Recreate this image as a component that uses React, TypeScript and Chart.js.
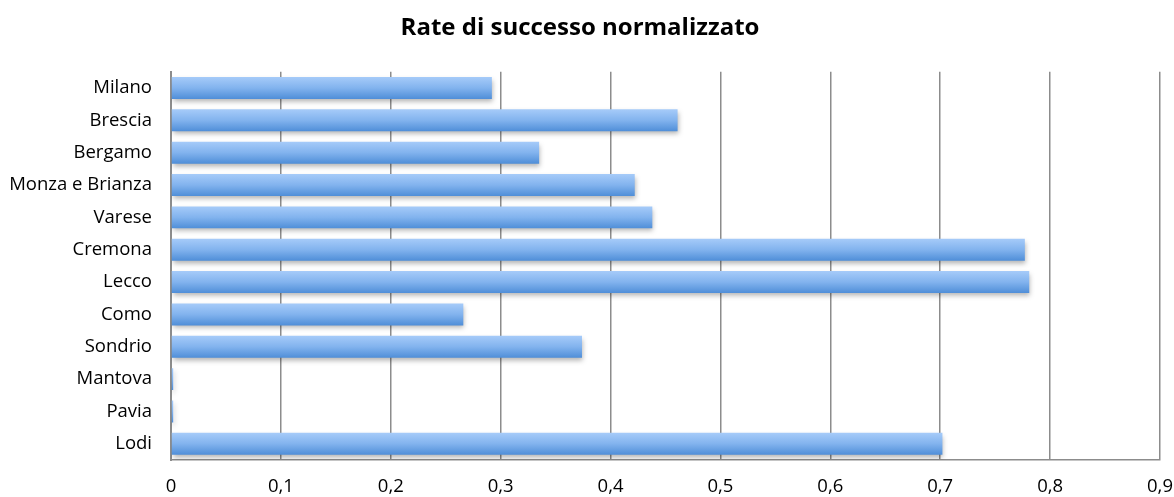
import React, { useEffect, useRef } from "react";
import { Chart, registerables } from "chart.js";

Chart.register(...registerables);

const categories = [
  "Milano",
  "Brescia",
  "Bergamo",
  "Monza e Brianza",
  "Varese",
  "Cremona",
  "Lecco",
  "Como",
  "Sondrio",
  "Mantova",
  "Pavia",
  "Lodi",
];
const values = [0.292, 0.461, 0.335, 0.422, 0.438, 0.777, 0.781, 0.266, 0.374, 0.002, 0.002, 0.702];
const xTicks = [0, 0.1, 0.2, 0.3, 0.4, 0.5, 0.6, 0.7, 0.8, 0.9];
const titleText = "Rate di successo normalizzato";

const FONT = "'Open Sans'";

export default function App() {
  const ref = useRef<HTMLCanvasElement>(null);
  useEffect(() => {
    document.body.style.margin = "0";
    const shadowPlugin = {
      id: "barShadow",
      beforeDatasetsDraw(chart: any) {
        const ctx = chart.ctx;
        ctx.save();
        ctx.shadowColor = "rgba(0,0,0,0.3)";
        ctx.shadowBlur = 5;
        ctx.shadowOffsetX = 1;
        ctx.shadowOffsetY = 3;
      },
      afterDatasetsDraw(chart: any) {
        chart.ctx.restore();
      },
    };
    const chart = new Chart(ref.current!, {
      type: "bar",
      data: {
        labels: categories,
        datasets: [
          {
            data: values,
            backgroundColor: (c: any) => {
              const ch = c.chart;
              const ys = ch.scales?.y;
              if (!ys || !ch.chartArea) return "#7aaef0";
              const yc = ys.getPixelForValue(c.dataIndex);
              const half = 11;
              const g = ch.ctx.createLinearGradient(0, yc - half, 0, yc + half);
              g.addColorStop(0, "#a6cbf9");
              g.addColorStop(0.5, "#82b3ee");
              g.addColorStop(1, "#4f8ed8");
              return g;
            },
            borderWidth: 0,
            barPercentage: 0.68,
            categoryPercentage: 1,
          },
        ],
      },
      options: {
        indexAxis: "y",
        animation: false,
        responsive: false,
        maintainAspectRatio: false,
        layout: { padding: { top: 0, right: 14, bottom: 0, left: 0 } },
        plugins: {
          legend: { display: false },
          tooltip: { enabled: false },
          title: {
            display: true,
            text: titleText,
            color: "#000",
            font: { family: FONT, size: 24, weight: "bold", lineHeight: 1.2 },
            padding: { top: 14, bottom: 29 },
          },
        },
        scales: {
          x: {
            min: 0,
            max: 0.9,
            afterBuildTicks: (s: any) => {
              s.ticks = xTicks.map((v) => ({ value: v }));
            },
            afterFit: (s: any) => {
              s.height = 37;
              s.paddingLeft = 0;
              s.paddingRight = 0;
            },
            grid: {
              color: "#8c8c8c",
              lineWidth: 1.5,
              drawTicks: false,
            },
            border: { display: true, color: "#8c8c8c", width: 1.5 },
            ticks: {
              padding: 16,
              color: "#000",
              font: { family: FONT, size: 18.5 },
              maxRotation: 0,
              autoSkip: false,
              callback: (v: any) => String(Math.round(Number(v) * 10) / 10).replace(".", ","),
            },
          },
          y: {
            afterFit: (s: any) => {
              s.width = 171;
            },
            grid: { display: false, drawTicks: false },
            border: { display: true, color: "#8c8c8c", width: 2 },
            ticks: {
              padding: 19,
              color: "#000",
              font: { family: FONT, size: 18.5 },
            },
          },
        },
      },
      plugins: [shadowPlugin],
    });
    return () => chart.destroy();
  }, []);
  return (
    <div style={{ width: 1174, height: 497 }}>
      <canvas ref={ref} width={1174} height={497} style={{ display: "block" }} />
    </div>
  );
}
